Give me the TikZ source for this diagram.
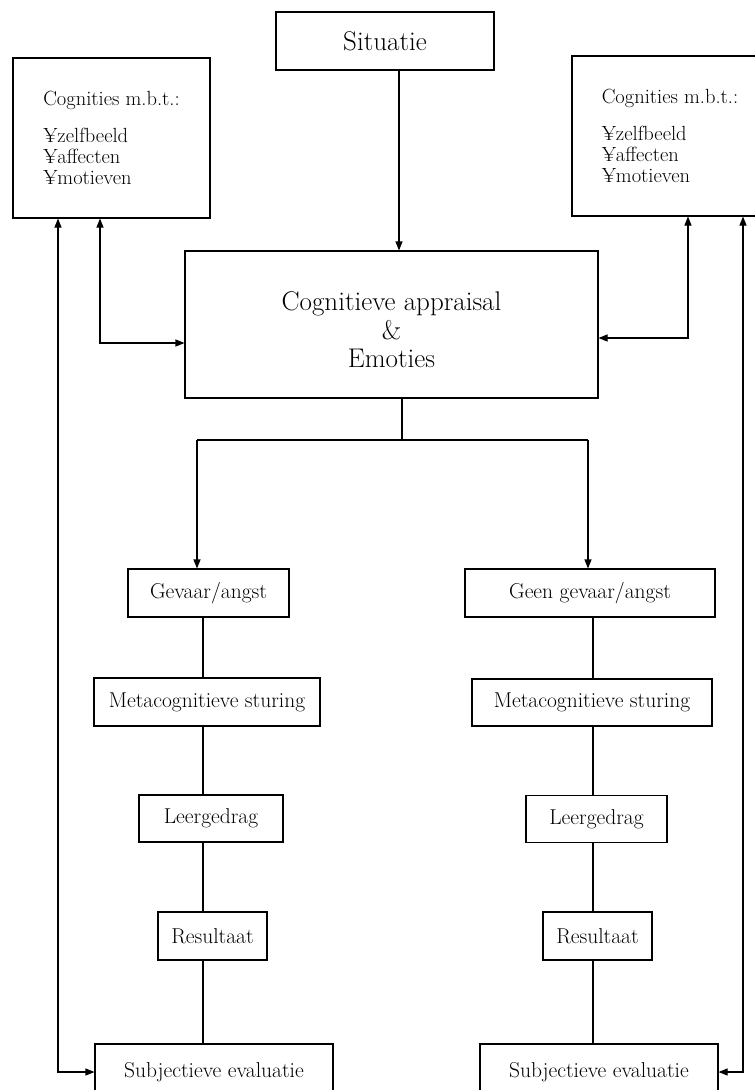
\documentclass[tikz,border=0pt]{standalone}
\usepackage{tikz}
\usetikzlibrary{positioning,arrows.meta}

\tikzset{
  blok/.style={draw, line width=1.1pt, inner sep=0pt, align=center,
    font=\fontsize{21.5}{18.5}\selectfont},
  lijst/.style={blok, align=left, font=\fontsize{20.5}{21}\selectfont},
  groot/.style={blok, font=\fontsize{27}{28.5}\selectfont},
  lijn/.style={line width=1.1pt},
  pijl/.style={lijn, -{Triangle[length=9pt,width=7pt]}},
  dpijl/.style={lijn, {Triangle[length=9pt,width=7pt]}-{Triangle[length=9pt,width=7pt]}},
}

\begin{document}
\begin{tikzpicture}[x=1pt, y=-1pt]
  \useasboundingbox (0,0) rectangle (755,1090);
  \clip (0,0) rectangle (755,1090);

  % top row
  \node[groot, minimum width=218pt, minimum height=58pt] (sit) at (385,41) {Situatie};
  \node[lijst, minimum width=197pt, minimum height=160pt] (cogL) at (111.5,138)
    {Cognities m.b.t.:\\[16pt]¥zelfbeeld\\¥affecten\\¥motieven};
  \node[lijst, minimum width=196pt, minimum height=160pt] (cogR) at (670,136)
    {Cognities m.b.t.:\\[16pt]¥zelfbeeld\\¥affecten\\¥motieven};
  \node[groot, minimum width=413pt, minimum height=147pt] (app) at (391.5,324.5)
    {\rule{0pt}{30pt}Cognitieve appraisal\\\&\\Emoties};

  % left column
  \node[blok, minimum width=161pt, minimum height=48pt] (gev) at (208.5,593) {Gevaar/angst};
  \node[blok, minimum width=226pt, minimum height=48pt] (metaL) at (207,702) {Metacognitieve sturing};
  \node[blok, minimum width=144pt, minimum height=47pt] (leerL) at (211,818.5) {Leergedrag};
  \node[blok, minimum width=109pt, minimum height=48pt] (resL) at (212.5,936) {Resultaat};
  \node[blok, minimum width=238pt, minimum height=56pt] (subjL) at (214,1072) {Subjectieve evaluatie};

  % right column
  \node[blok, minimum width=250pt, minimum height=48pt] (geen) at (590,593) {Geen gevaar/angst};
  \node[blok, minimum width=240pt, minimum height=47pt] (metaR) at (592,702.5) {Metacognitieve sturing};
  \node[blok, minimum width=141pt, minimum height=47pt] (leerR) at (596.5,819) {Leergedrag};
  \node[blok, minimum width=109pt, minimum height=48pt] (resR) at (597.5,936) {Resultaat};
  \node[blok, minimum width=238pt, minimum height=56pt] (subjR) at (599,1072) {Subjectieve evaluatie};

  % helper points
  \coordinate (inval) at (399,0);
  \coordinate (split) at (402,440);
  \coordinate (armL) at (197,440);
  \coordinate (armR) at (588,440);
  \coordinate (lijnL) at (203,0);
  \coordinate (lijnR) at (593,0);
  \coordinate (fbL) at (100,343);
  \coordinate (fbR) at (688,338);
  \coordinate (lusL) at (58,1072);
  \coordinate (lusR) at (743,1072);

  % situatie -> appraisal
  \draw[pijl] (inval |- sit.south) -- (inval |- app.north);

  % split into the two routes
  \draw[lijn] (split |- app.south) -- (split);
  \draw[lijn] (armL) -- (armR);
  \draw[pijl] (armL) -- (armL |- gev.north);
  \draw[pijl] (armR) -- (armR |- geen.north);

  % columns
  \draw[lijn] (lijnL |- gev.south) -- (lijnL |- metaL.north);
  \draw[lijn] (lijnL |- metaL.south) -- (lijnL |- leerL.north);
  \draw[lijn] (lijnL |- leerL.south) -- (lijnL |- resL.north);
  \draw[lijn] (lijnL |- resL.south) -- (lijnL |- subjL.north);
  \draw[lijn] (lijnR |- geen.south) -- (lijnR |- metaR.north);
  \draw[lijn] (lijnR |- metaR.south) -- (lijnR |- leerR.north);
  \draw[lijn] (lijnR |- leerR.south) -- (lijnR |- resR.north);
  \draw[lijn] (lijnR |- resR.south) -- (lijnR |- subjR.north);

  % feedback
  \draw[dpijl] (fbL |- cogL.south) -- (fbL) -- (fbL -| app.west);
  \draw[dpijl] (fbR |- cogR.south) -- (fbR) -- (fbR -| app.east);
  \draw[dpijl] (lusL |- cogL.south) -- (lusL) -- (subjL.west);
  \draw[dpijl] (lusR |- cogR.south) -- (lusR) -- (subjR.east);
\end{tikzpicture}
\end{document}
